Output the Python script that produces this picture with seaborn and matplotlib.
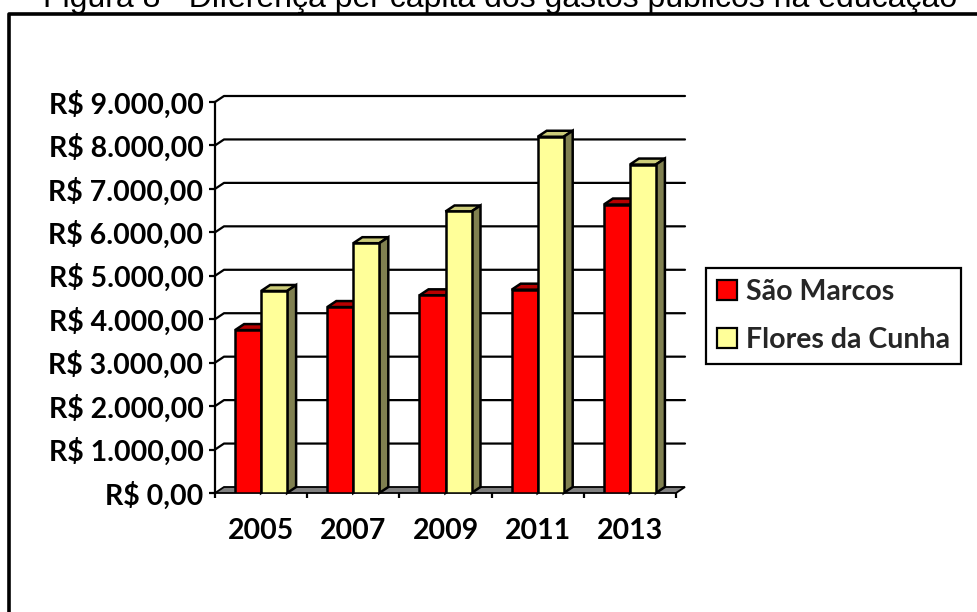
import numpy as np
import matplotlib
matplotlib.use("Agg")
import matplotlib.pyplot as plt
from matplotlib.patches import Polygon, Patch
from matplotlib.lines import Line2D
import pandas as pd
import seaborn as sns

# valores
years = ["2005", "2007", "2009", "2011", "2013"]
sao_marcos = [3750, 4280, 4550, 4680, 6640]
flores_da_cunha = [4650, 5750, 6480, 8200, 7560]
series_names = ["São Marcos", "Flores da Cunha"]
yticks = [0, 1000, 2000, 3000, 4000, 5000, 6000, 7000, 8000, 9000]
ytick_labels = ["R$ 0,00", "R$ 1.000,00", "R$ 2.000,00", "R$ 3.000,00",
                "R$ 4.000,00", "R$ 5.000,00", "R$ 6.000,00", "R$ 7.000,00",
                "R$ 8.000,00", "R$ 9.000,00"]
title = "Figura 8 - Diferença per capita dos gastos públicos na educação"

front_colors = ["#FF0000", "#FFFF99"]
top_colors = ["#B80000", "#CCCC7A"]
side_colors = ["#800000", "#808050"]

df = pd.DataFrame({
    "ano": years * 2,
    "valor": sao_marcos + flores_da_cunha,
    "cidade": [series_names[0]] * len(years) + [series_names[1]] * len(years),
})

sns.set_theme(style="white")
plt.rcParams["font.family"] = ["Lato", "DejaVu Sans"]
FS = 20.5

W, H = 977, 612
fig = plt.figure(figsize=(W / 100, H / 100), dpi=100)
ax = fig.add_axes([215 / W, 119 / H, 461 / W, 391 / H])

sns.barplot(data=df, x="ano", y="valor", hue="cidade", palette=front_colors,
            width=0.564, saturation=1, edgecolor="black", linewidth=1.8,
            errorbar=None, legend=False, ax=ax)
ax.set_xlim(-0.5, len(years) - 0.5)
ax.set_ylim(0, 9000)

# deslocamento da profundidade 3D (em pixels -> dados)
inv = ax.transData.inverted()
p0 = ax.transData.transform((0, 0))
ddx, ddy = inv.transform(p0 + np.array([9, 6]))

# piso e paredes
x_lo, x_hi = ax.get_xlim()
floor = Polygon([(x_lo, 0), (x_hi, 0), (x_hi + ddx, ddy), (x_lo + ddx, ddy)],
                closed=True, facecolor="#808080", edgecolor="black", lw=1.3,
                zorder=1, clip_on=False)
ax.add_patch(floor)
for v in yticks[1:]:
    ax.plot([x_lo, x_lo + ddx, x_hi + ddx], [v, v + ddy, v + ddy],
            color="black", lw=1.6, zorder=0.5, clip_on=False)

# faces 3D das barras
for i, cont in enumerate(ax.containers):
    for bar in cont:
        x0, w, h = bar.get_x(), bar.get_width(), bar.get_height()
        bar.set_zorder(3 + 2 * i)
        top = Polygon([(x0, h), (x0 + w, h), (x0 + w + ddx, h + ddy), (x0 + ddx, h + ddy)],
                      closed=True, facecolor=top_colors[i], edgecolor="black",
                      lw=1.8, zorder=2.5 + 2 * i, clip_on=False)
        side = Polygon([(x0 + w, 0), (x0 + w + ddx, ddy), (x0 + w + ddx, h + ddy), (x0 + w, h)],
                       closed=True, facecolor=side_colors[i], edgecolor="black",
                       lw=1.8, zorder=2.5 + 2 * i, clip_on=False)
        ax.add_patch(top)
        ax.add_patch(side)

for s in ["top", "right", "bottom"]:
    ax.spines[s].set_visible(False)
ax.spines["left"].set_color("black")
ax.spines["left"].set_linewidth(1.6)
ax.spines["left"].set_zorder(6)

ax.set_yticks(yticks, ytick_labels)
ax.tick_params(axis="y", left=True, length=4.3, width=1.6, color="black", pad=4,
               labelsize=FS, labelcolor="black")
ax.set_xticks(range(len(years)), years)
ax.set_xticks(np.arange(-0.5, len(years), 1), minor=True)
ax.tick_params(axis="x", which="major", length=0, pad=18, labelsize=FS, labelcolor="black")
ax.tick_params(axis="x", which="minor", bottom=True, length=3.6, width=1.6, color="black")
for lab in ax.get_xticklabels() + ax.get_yticklabels():
    lab.set_fontweight("bold")
ax.set_xlabel("")
ax.set_ylabel("")

handles = [Patch(facecolor=c, edgecolor="black", lw=1.6) for c in front_colors]
leg = fig.legend(handles, series_names, loc="upper left",
                 bbox_to_anchor=(706 / W, 1 - 268 / H), borderaxespad=0,
                 frameon=True, fancybox=False, edgecolor="black", framealpha=1,
                 prop={"family": ["Lato", "DejaVu Sans"], "weight": "bold", "size": FS},
                 handlelength=0.7, handleheight=0.7, handletextpad=0.3,
                 labelspacing=0.75, borderpad=0.4)
leg.get_frame().set_linewidth(1.6)

# moldura e titulo (cortado no topo, como no original)
fig.add_artist(Line2D([9 / W, 9 / W, 1.0], [0.0, 1 - 14 / H, 1 - 14 / H],
                      transform=fig.transFigure, color="black", lw=2.6))
fig.text(500 / W, 1 - 7 / H, title, ha="center", va="baseline",
         fontsize=23, family=["Liberation Sans", "DejaVu Sans"], color="black")

fig.savefig("out.png", dpi=100)
